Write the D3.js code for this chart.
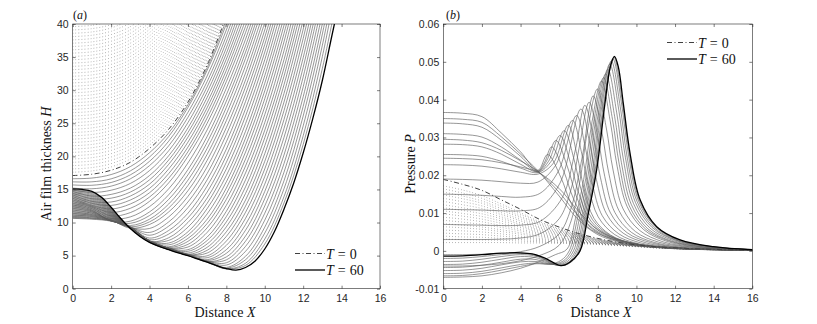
<!DOCTYPE html>
<html lang="en">
<head>
<meta charset="UTF-8">
<title>Air film thickness and pressure</title>
<script src="https://d3js.org/d3.v7.min.js"></script>
<style>
  body { margin: 0; background: #fff; }
  svg { display: block; }
  .tick text { font-family: "Liberation Sans", Arial, sans-serif; font-size: 10.5px; fill: #262626; }
  .tick line { stroke: #262626; stroke-width: 0.6; }
  .lbl { font-family: "Liberation Serif", "DejaVu Serif", serif; font-size: 14px; fill: #111; }
</style>
</head>
<body>
<svg id="chart" width="817" height="324"></svg>
<script>
// tick values
const xTicks = [0, 2, 4, 6, 8, 10, 12, 14, 16];
const hTicks = [0, 5, 10, 15, 20, 25, 30, 35, 40];
const pTicks = [-0.01, 0, 0.01, 0.02, 0.03, 0.04, 0.05, 0.06];

// panel (a): air film thickness H, sampled at X = 0, 1, 2, ...
const xGridA = [0, 1, 2, 3, 4, 5, 6, 7, 8, 9, 10, 11, 12, 13, 14];
const hT0 = [17.1, 17.3, 17.9, 19.1, 21.2, 24.1, 28.2, 33.8, 41.2];
const hT60 = [[0, 15.07], [0.5, 15.0], [1, 14.7], [1.5, 13.8], [2, 12.3], [2.5, 10.6], [3, 9.1], [3.5, 7.9],
  [4, 7.0], [4.5, 6.4], [5, 5.9], [5.5, 5.4], [6, 5.0], [6.5, 4.5], [7, 4.0], [7.5, 3.5], [8, 3.05],
  [8.5, 2.8], [9, 3.2], [9.5, 4.2], [10, 6.0], [10.5, 8.6], [11, 12.0], [11.5, 15.9], [12, 20.5],
  [12.5, 25.7], [13, 31.5], [13.5, 38.3], [14, 45]];
// earlier profiles (dotted)
const hDotted = [
  [17.6, 17.8, 18.4, 19.6, 21.7, 24.6, 28.7, 34.3, 41.7],
  [18.1, 18.3, 18.9, 20.1, 22.2, 25.1, 29.2, 34.8, 42.2],
  [18.6, 18.8, 19.4, 20.6, 22.7, 25.6, 29.7, 35.3, 42.7],
  [19.1, 19.3, 19.9, 21.1, 23.2, 26.1, 30.2, 35.8, 43.2],
  [19.6, 19.8, 20.4, 21.6, 23.7, 26.6, 30.7, 36.3, 43.7],
  [20.1, 20.3, 20.9, 22.1, 24.2, 27.1, 31.2, 36.8, 44.2],
  [20.6, 20.8, 21.4, 22.6, 24.7, 27.6, 31.7, 37.3, 44.7],
  [21.1, 21.3, 21.9, 23.1, 25.2, 28.1, 32.2, 37.8, 45.2],
  [21.6, 21.8, 22.4, 23.6, 25.7, 28.6, 32.7, 38.3, 45.7],
  [22.1, 22.3, 22.9, 24.1, 26.2, 29.1, 33.2, 38.8, 46.2],
  [22.6, 22.8, 23.4, 24.6, 26.7, 29.6, 33.7, 39.3, 46.7],
  [23.1, 23.3, 23.9, 25.1, 27.2, 30.1, 34.2, 39.8, 47.2],
  [23.6, 23.8, 24.4, 25.6, 27.7, 30.6, 34.7, 40.3],
  [24.1, 24.3, 24.9, 26.1, 28.2, 31.1, 35.2, 40.8],
  [24.6, 24.8, 25.4, 26.6, 28.7, 31.6, 35.7, 41.3],
  [25.1, 25.3, 25.9, 27.1, 29.2, 32.1, 36.2, 41.8],
  [25.6, 25.8, 26.4, 27.6, 29.7, 32.6, 36.7, 42.3],
  [26.1, 26.3, 26.9, 28.1, 30.2, 33.1, 37.2, 42.8],
  [26.6, 26.8, 27.4, 28.6, 30.7, 33.6, 37.7, 43.3],
  [27.1, 27.3, 27.9, 29.1, 31.2, 34.1, 38.2, 43.8],
  [27.6, 27.8, 28.4, 29.6, 31.7, 34.6, 38.7, 44.3],
  [28.1, 28.3, 28.9, 30.1, 32.2, 35.1, 39.2, 44.8],
  [28.6, 28.8, 29.4, 30.6, 32.7, 35.6, 39.7, 45.3],
  [29.1, 29.3, 29.9, 31.1, 33.2, 36.1, 40.2],
  [29.6, 29.8, 30.4, 31.6, 33.7, 36.6, 40.7],
  [30.1, 30.3, 30.9, 32.1, 34.2, 37.1, 41.2],
  [30.6, 30.8, 31.4, 32.6, 34.7, 37.6, 41.7],
  [31.1, 31.3, 31.9, 33.1, 35.2, 38.1, 42.2],
  [31.6, 31.8, 32.4, 33.6, 35.7, 38.6, 42.7],
  [32.1, 32.3, 32.9, 34.1, 36.2, 39.1, 43.2],
  [32.6, 32.8, 33.4, 34.6, 36.7, 39.6, 43.7],
  [33.1, 33.3, 33.9, 35.1, 37.2, 40.1],
  [33.6, 33.8, 34.4, 35.6, 37.7, 40.6],
  [34.1, 34.3, 34.9, 36.1, 38.2, 41.1],
  [34.6, 34.8, 35.4, 36.6, 38.7, 41.6],
  [35.1, 35.3, 35.9, 37.1, 39.2, 42.1],
  [35.6, 35.8, 36.4, 37.6, 39.7, 42.6],
  [36.1, 36.3, 36.9, 38.1, 40.2],
  [36.6, 36.8, 37.4, 38.6, 40.7],
  [37.1, 37.3, 37.9, 39.1, 41.2],
  [37.6, 37.8, 38.4, 39.6, 41.7],
  [38.1, 38.3, 38.9, 40.1],
  [38.6, 38.8, 39.4, 40.6],
  [39.1, 39.3, 39.9, 41.1],
  [39.6, 39.8, 40.4]
];
// profiles between T = 0 and T = 60 (grey)
const hSolid = [
  [16.62, 16.72, 17.25, 18.45, 20.55, 23.55, 27.8, 33.4, 40.6],
  [16.15, 16.15, 16.6, 17.8, 19.9, 23.0, 27.4, 33.0, 40.0, 48.5],
  [15.68, 15.63, 16.05, 17.2, 19.25, 22.3, 26.65, 32.15, 39.1, 47.55],
  [15.2, 15.1, 15.5, 16.6, 18.6, 21.6, 25.9, 31.3, 38.2, 46.6],
  [14.95, 14.55, 14.88, 15.9, 17.85, 20.85, 25.1, 30.5, 37.3, 45.6],
  [14.7, 14.0, 14.25, 15.2, 17.1, 20.1, 24.3, 29.7, 36.4, 44.6],
  [14.44, 13.6, 13.68, 14.6, 16.45, 19.45, 23.6, 28.9, 35.55, 43.55],
  [14.18, 13.2, 13.1, 14.0, 15.8, 18.8, 22.9, 28.1, 34.7, 42.5],
  [13.93, 12.9, 12.58, 13.4, 15.15, 18.1, 22.15, 27.35, 33.85, 41.55],
  [13.68, 12.6, 12.05, 12.8, 14.5, 17.4, 21.4, 26.6, 33.0, 40.6],
  [13.43, 12.45, 11.53, 12.15, 13.85, 16.7, 20.7, 25.8, 32.15, 39.65, 48.0],
  [13.17, 12.3, 11.0, 11.5, 13.2, 16.0, 20.0, 25.0, 31.3, 38.7, 47.3],
  [12.92, 12.1, 10.6, 10.85, 12.4, 15.1, 19.0, 24.0, 30.3, 37.7, 46.35],
  [12.66, 11.9, 10.2, 10.2, 11.6, 14.2, 18.0, 23.0, 29.3, 36.7, 45.4],
  [12.4, 11.75, 10.25, 9.88, 11.05, 13.5, 17.2, 22.1, 28.35, 35.75, 44.4],
  [12.15, 11.6, 10.3, 9.55, 10.5, 12.8, 16.4, 21.2, 27.4, 34.8, 43.4],
  [11.9, 11.4, 10.35, 9.35, 10.1, 12.2, 15.6, 20.3, 26.4, 33.7, 42.35],
  [11.64, 11.2, 10.4, 9.15, 9.7, 11.6, 14.8, 19.4, 25.4, 32.6, 41.3],
  [11.39, 11.05, 10.35, 9.22, 9.1, 10.85, 13.95, 18.4, 24.35, 31.55, 40.2],
  [11.14, 10.9, 10.3, 9.3, 8.5, 10.1, 13.1, 17.4, 23.3, 30.5, 39.1, 49.2],
  [10.89, 10.7, 10.25, 9.3, 8.08, 9.45, 12.25, 16.45, 22.2, 29.4, 38.0, 48.15],
  [10.63, 10.5, 10.2, 9.3, 7.65, 8.8, 11.4, 15.5, 21.1, 28.3, 36.9, 47.1],
  [10.69, 10.59, 10.26, 9.3, 7.4, 8.25, 10.7, 14.6, 20.1, 27.2, 35.75, 45.95],
  [10.75, 10.68, 10.32, 9.29, 7.15, 7.7, 10.0, 13.7, 19.1, 26.1, 34.6, 44.8],
  [10.92, 10.84, 10.4, 9.28, 7.2, 7.3, 9.3, 12.9, 18.1, 24.95, 33.4, 43.5],
  [11.08, 10.99, 10.47, 9.27, 7.25, 6.9, 8.6, 12.1, 17.1, 23.8, 32.2, 42.2],
  [11.25, 11.15, 10.55, 9.27, 7.22, 6.62, 8.1, 11.3, 16.15, 22.75, 31.05, 41.0],
  [11.41, 11.3, 10.62, 9.26, 7.2, 6.34, 7.6, 10.5, 15.2, 21.7, 29.9, 39.8, 51.4],
  [11.58, 11.46, 10.7, 9.26, 7.2, 6.22, 7.15, 9.85, 14.35, 20.65, 28.7, 38.55, 50.15],
  [11.75, 11.61, 10.77, 9.25, 7.2, 6.1, 6.7, 9.2, 13.5, 19.6, 27.5, 37.3, 48.9],
  [11.92, 11.77, 10.85, 9.24, 7.2, 6.1, 6.3, 8.5, 12.6, 18.55, 26.3, 35.95, 47.5],
  [12.08, 11.92, 10.93, 9.23, 7.2, 6.1, 5.9, 7.8, 11.7, 17.5, 25.1, 34.6, 46.1],
  [12.25, 12.08, 11.0, 9.22, 7.2, 6.1, 5.65, 7.28, 10.9, 16.45, 23.95, 33.35, 44.75],
  [12.41, 12.23, 11.08, 9.22, 7.2, 6.1, 5.39, 6.76, 10.1, 15.4, 22.8, 32.1, 43.4],
  [12.58, 12.38, 11.15, 9.21, 7.2, 6.1, 5.2, 6.25, 9.35, 14.4, 21.6, 30.8, 42.0],
  [12.74, 12.53, 11.23, 9.2, 7.2, 6.1, 5.06, 5.8, 8.6, 13.4, 20.4, 29.5, 40.6],
  [12.91, 12.69, 11.3, 9.2, 7.2, 6.1, 5.13, 5.39, 7.9, 12.48, 19.25, 28.2, 39.2, 52.0],
  [13.08, 12.84, 11.38, 9.19, 7.2, 6.1, 5.2, 4.97, 7.2, 11.55, 18.1, 26.9, 37.8, 50.9],
  [13.25, 13.0, 11.46, 9.18, 7.18, 6.08, 5.18, 4.68, 6.55, 10.63, 16.95, 25.55, 36.35, 49.35],
  [13.41, 13.15, 11.53, 9.17, 7.15, 6.05, 5.15, 4.39, 5.9, 9.7, 15.8, 24.2, 34.9, 47.8],
  [13.58, 13.3, 11.6, 9.16, 7.12, 6.02, 5.12, 4.25, 5.35, 8.84, 14.7, 22.85, 33.45, 46.3],
  [13.74, 13.45, 11.68, 9.16, 7.1, 6.0, 5.1, 4.1, 4.8, 7.97, 13.6, 21.5, 32.0, 44.8],
  [13.9, 13.6, 11.76, 9.15, 7.1, 6.0, 5.1, 4.12, 4.36, 7.18, 12.5, 20.2, 30.5, 43.2],
  [14.07, 13.76, 11.84, 9.14, 7.1, 6.0, 5.1, 4.15, 3.92, 6.4, 11.4, 18.9, 29.0, 41.6],
  [14.24, 13.92, 11.92, 9.14, 7.08, 5.98, 5.08, 4.12, 3.57, 5.65, 10.35, 17.6, 27.55, 40.05, 55.0],
  [14.41, 14.08, 11.99, 9.13, 7.05, 5.95, 5.05, 4.1, 3.22, 4.9, 9.3, 16.3, 26.1, 38.5, 53.6],
  [14.58, 14.23, 12.06, 9.12, 7.04, 5.94, 5.04, 4.08, 3.11, 4.38, 8.4, 15.1, 24.6, 36.8, 51.75],
  [14.74, 14.38, 12.14, 9.11, 7.02, 5.92, 5.02, 4.05, 3.0, 3.85, 7.5, 13.9, 23.1, 35.1, 49.9],
  [14.9, 14.54, 12.22, 9.1, 7.01, 5.91, 5.01, 4.02, 3.02, 3.52, 6.75, 12.95, 21.8, 33.3, 47.45]
];

// panel (b): pressure P
const xGridB = [0, 1, 2, 3, 4, 5, 6, 7, 8, 9, 10, 11, 12, 14, 16];
const pT0 = [0.0189, 0.0176, 0.0160, 0.0135, 0.0110, 0.0083, 0.0063, 0.0046, 0.0033, 0.0023, 0.0016, 0.0011, 0.0008, 0.0004, 0.0002];
const pDotted = [
  [0.0022, 0.0022, 0.0022, 0.0022, 0.0021, 0.0021, 0.0020, 0.0019, 0.0017, 0.0014, 0.0011, 0.0008, 0.0006, 0.0003, 0.0001],
  [0.0031, 0.0030, 0.0029, 0.0028, 0.0026, 0.0024, 0.0022, 0.0021, 0.0018, 0.0015, 0.0012, 0.0008, 0.0006, 0.0003, 0.0001],
  [0.0039, 0.0037, 0.0036, 0.0033, 0.0030, 0.0027, 0.0024, 0.0022, 0.0019, 0.0015, 0.0012, 0.0008, 0.0006, 0.0003, 0.0001],
  [0.0047, 0.0045, 0.0043, 0.0039, 0.0035, 0.0030, 0.0027, 0.0023, 0.0020, 0.0016, 0.0012, 0.0009, 0.0006, 0.0003, 0.0001],
  [0.0055, 0.0053, 0.0050, 0.0045, 0.0039, 0.0033, 0.0029, 0.0024, 0.0020, 0.0016, 0.0012, 0.0009, 0.0006, 0.0003, 0.0001],
  [0.0064, 0.0061, 0.0057, 0.0051, 0.0044, 0.0037, 0.0031, 0.0026, 0.0021, 0.0017, 0.0013, 0.0009, 0.0007, 0.0003, 0.0001],
  [0.0072, 0.0068, 0.0063, 0.0056, 0.0048, 0.0040, 0.0033, 0.0027, 0.0022, 0.0017, 0.0013, 0.0009, 0.0007, 0.0003, 0.0001],
  [0.0081, 0.0076, 0.0070, 0.0062, 0.0053, 0.0043, 0.0035, 0.0029, 0.0023, 0.0018, 0.0013, 0.0009, 0.0007, 0.0003, 0.0001],
  [0.0089, 0.0084, 0.0077, 0.0067, 0.0057, 0.0046, 0.0037, 0.0030, 0.0023, 0.0018, 0.0013, 0.0009, 0.0007, 0.0003, 0.0001],
  [0.0098, 0.0092, 0.0084, 0.0073, 0.0062, 0.0049, 0.0040, 0.0032, 0.0024, 0.0019, 0.0014, 0.0010, 0.0007, 0.0004, 0.0002],
  [0.0106, 0.0099, 0.0091, 0.0079, 0.0066, 0.0052, 0.0042, 0.0033, 0.0025, 0.0019, 0.0014, 0.0010, 0.0007, 0.0004, 0.0002],
  [0.0114, 0.0107, 0.0098, 0.0085, 0.0070, 0.0055, 0.0044, 0.0034, 0.0026, 0.0019, 0.0014, 0.0010, 0.0007, 0.0004, 0.0002],
  [0.0122, 0.0114, 0.0105, 0.0090, 0.0074, 0.0058, 0.0046, 0.0035, 0.0027, 0.0019, 0.0014, 0.0010, 0.0007, 0.0004, 0.0002],
  [0.0131, 0.0122, 0.0112, 0.0096, 0.0079, 0.0061, 0.0048, 0.0037, 0.0028, 0.0020, 0.0015, 0.0010, 0.0007, 0.0004, 0.0002],
  [0.0139, 0.0130, 0.0119, 0.0101, 0.0083, 0.0064, 0.0050, 0.0038, 0.0028, 0.0020, 0.0015, 0.0010, 0.0007, 0.0004, 0.0002],
  [0.0148, 0.0138, 0.0126, 0.0107, 0.0088, 0.0068, 0.0052, 0.0040, 0.0029, 0.0021, 0.0015, 0.0010, 0.0008, 0.0004, 0.0002],
  [0.0156, 0.0145, 0.0132, 0.0112, 0.0092, 0.0071, 0.0054, 0.0041, 0.0030, 0.0021, 0.0015, 0.0010, 0.0008, 0.0004, 0.0002],
  [0.0164, 0.0153, 0.0139, 0.0118, 0.0097, 0.0074, 0.0057, 0.0042, 0.0031, 0.0022, 0.0016, 0.0011, 0.0008, 0.0004, 0.0002],
  [0.0172, 0.0161, 0.0146, 0.0124, 0.0101, 0.0077, 0.0059, 0.0043, 0.0031, 0.0022, 0.0016, 0.0011, 0.0008, 0.0004, 0.0002]
];
// grey profiles as [X, P] pairs: centre pressure builds, then the peak travels outwards
const pSolid = [
  [[0, 0.0245], [1, 0.0244], [2, 0.0241], [3, 0.0233], [4, 0.0222], [4.9, 0.0208], [6, 0.0165], [7, 0.0105], [8, 0.0055], [9, 0.003], [10, 0.0018], [12, 0.0008], [14, 0.0004], [16, 0.0002]],
  [[0, 0.0295], [1, 0.0293], [2, 0.0286], [3, 0.0266], [4, 0.0238], [4.9, 0.021], [6, 0.0155], [7, 0.0092], [8, 0.0048], [9, 0.0027], [10, 0.0016], [12, 0.0007], [14, 0.0004], [16, 0.0002]],
  [[0, 0.035], [1, 0.0348], [2, 0.034], [3, 0.0302], [4, 0.0256], [4.9, 0.0212], [6, 0.0145], [7, 0.0082], [8, 0.0043], [9, 0.0025], [10, 0.0015], [12, 0.0007], [14, 0.0004], [16, 0.0002]],
  [[0, 0.0366], [1, 0.0364], [2, 0.0355], [3, 0.0312], [4, 0.0262], [4.9, 0.0213], [5.4, 0.0255], [6.09, 0.0194], [6.6, 0.0128], [7.4, 0.0066], [8.7, 0.0032], [10.5, 0.0014], [13, 0.0005], [16, 0.0002]],
  [[0, 0.0338], [1, 0.0336], [2, 0.0327], [3, 0.0293], [4, 0.025], [4.9, 0.0211], [5.25, 0.0235], [5.61, 0.0275], [6.25, 0.0209], [6.74, 0.0138], [7.47, 0.0072], [8.68, 0.0034], [10.4, 0.0015], [12.8, 0.0006], [16, 0.0002]],
  [[0, 0.031], [1, 0.0308], [2, 0.0301], [3, 0.0275], [4, 0.024], [4.9, 0.021], [5.35, 0.0238], [5.83, 0.0292], [6.43, 0.0222], [6.88, 0.0146], [7.56, 0.0076], [8.68, 0.0037], [10.25, 0.0016], [12.5, 0.0006], [16, 0.0002]],
  [[0, 0.0282], [1, 0.0281], [2, 0.0275], [3, 0.0256], [4, 0.0229], [4.9, 0.0209], [5.45, 0.0237], [6.04, 0.0305], [6.59, 0.0232], [7.01, 0.0153], [7.64, 0.0079], [8.67, 0.0038], [10.12, 0.0017], [12.2, 0.0006], [16, 0.0002]],
  [[0, 0.0255], [1, 0.0254], [2, 0.025], [3, 0.0237], [4, 0.0219], [4.9, 0.0207], [5.6, 0.0238], [6.26, 0.0318], [6.77, 0.0242], [7.15, 0.0159], [7.72, 0.0083], [8.67, 0.004], [10.0, 0.0018], [11.9, 0.0007], [16, 0.0002]],
  [[0, 0.0228], [1, 0.0227], [2, 0.0224], [3, 0.0217], [4, 0.0208], [4.9, 0.0203], [5.7, 0.0232], [6.47, 0.0332], [6.93, 0.0252], [7.28, 0.0166], [7.8, 0.0086], [8.66, 0.0042], [9.87, 0.0019], [11.57, 0.0007], [16, 0.0002]],
  [[0, 0.019], [1, 0.0189], [2, 0.0187], [3, 0.0183], [4, 0.0179], [4.9, 0.0182], [5.8, 0.0225], [6.69, 0.0345], [7.15, 0.0262], [7.5, 0.0173], [8.02, 0.009], [8.88, 0.0043], [10.09, 0.0019], [11.79, 0.0007], [16, 0.0002]],
  [[0, 0.015], [1, 0.0149], [2, 0.0147], [3, 0.0144], [4, 0.0142], [5, 0.0152], [5.95, 0.021], [6.9, 0.0358], [7.36, 0.0272], [7.71, 0.0179], [8.23, 0.0093], [9.09, 0.0045], [10.3, 0.002], [12.0, 0.0008], [16, 0.0002]],
  [[0, 0.011], [1, 0.0109], [2, 0.0108], [3, 0.0106], [4, 0.0106], [5, 0.0115], [6.05, 0.018], [7.12, 0.0375], [7.58, 0.0285], [7.93, 0.0188], [8.45, 0.0098], [9.31, 0.0047], [10.52, 0.0021], [12.22, 0.0008], [16, 0.0002]],
  [[0, 0.007], [1, 0.0069], [2, 0.0068], [3, 0.0067], [4, 0.0068], [5, 0.0078], [6.15, 0.014], [6.85, 0.027], [7.33, 0.0385], [7.79, 0.0293], [8.14, 0.0193], [8.66, 0.01], [9.52, 0.0048], [10.73, 0.0022], [12.43, 0.0008], [16, 0.0002]],
  [[0, 0.003], [1, 0.003], [2, 0.003], [3, 0.0031], [4, 0.0034], [5, 0.0045], [6.0, 0.0085], [6.6, 0.016], [7.08, 0.0285], [7.55, 0.0393], [8.01, 0.0299], [8.36, 0.0197], [8.88, 0.0102], [9.74, 0.0049], [10.95, 0.0022], [12.65, 0.0008], [16, 0.0002]],
  [[0, -0.001], [1, -0.001], [2, -0.0009], [3, -0.0007], [4, -0.0002], [5, 0.0012], [6.0, 0.0045], [6.6, 0.011], [7.2, 0.025], [7.76, 0.041], [8.22, 0.0312], [8.57, 0.0205], [9.09, 0.0107], [9.95, 0.0051], [11.16, 0.0023], [12.86, 0.0009], [16, 0.0002]],
  [[0, -0.004], [1, -0.004], [2, -0.0038], [3, -0.0034], [4, -0.0026], [5, -0.0012], [6.0, 0.0015], [6.63, 0.0081], [7.06, 0.018], [7.49, 0.0325], [7.98, 0.0428], [8.44, 0.0325], [8.79, 0.0214], [9.31, 0.0111], [10.17, 0.0054], [11.38, 0.0024], [13.08, 0.0009], [16, 0.0002]],
  [[0, -0.007], [1, -0.0069], [2, -0.0066], [3, -0.0058], [4, -0.0046], [5, -0.0028], [5.8, -0.001], [6.41, 0.0005], [6.84, 0.0085], [7.27, 0.0189], [7.7, 0.0341], [8.19, 0.0449], [8.65, 0.0341], [9.0, 0.0224], [9.52, 0.0117], [10.38, 0.0056], [11.59, 0.0025], [13.29, 0.0009], [16, 0.0002]],
  [[0, -0.0066], [1, -0.0065], [2, -0.006], [3, -0.0051], [4, -0.0041], [4.8, -0.0034], [5.54, -0.0035], [6.1, -0.0025], [6.52, 0.0], [6.95, 0.0087], [7.38, 0.0192], [7.81, 0.0348], [8.3, 0.0458], [8.76, 0.0348], [9.11, 0.0229], [9.63, 0.0119], [10.49, 0.0057], [11.7, 0.0026], [13.4, 0.001], [16, 0.0002]],
  [[0, -0.006], [1, -0.0059], [2, -0.0054], [3, -0.0045], [4, -0.0036], [4.8, -0.0032], [5.65, -0.0035], [6.2, -0.0027], [6.63, 0.0], [7.06, 0.0089], [7.49, 0.0197], [7.92, 0.0356], [8.41, 0.0468], [8.87, 0.0356], [9.22, 0.0234], [9.74, 0.0122], [10.6, 0.0058], [11.81, 0.0026], [13.5, 0.001], [16, 0.0002]],
  [[0, -0.0052], [1, -0.0051], [2, -0.0046], [3, -0.0037], [4, -0.0029], [4.8, -0.0028], [5.76, -0.0036], [6.3, -0.0028], [6.74, 0.0], [7.17, 0.0091], [7.6, 0.0202], [8.03, 0.0365], [8.52, 0.048], [8.98, 0.0365], [9.33, 0.024], [9.85, 0.0125], [10.71, 0.006], [11.92, 0.0027], [13.6, 0.001], [16, 0.0003]],
  [[0, -0.0044], [1, -0.0043], [2, -0.0038], [3, -0.003], [4, -0.0022], [4.8, -0.0023], [5.86, -0.0037], [6.4, -0.0029], [6.84, 0.0], [7.27, 0.0094], [7.7, 0.0207], [8.13, 0.0375], [8.62, 0.0494], [9.08, 0.0375], [9.43, 0.0247], [9.95, 0.0128], [10.81, 0.0062], [12.02, 0.0028], [13.72, 0.0011], [16, 0.0003]],
  [[0, -0.0036], [1, -0.0035], [2, -0.003], [3, -0.0022], [4, -0.0015], [4.8, -0.0018], [5.94, -0.0038], [6.48, -0.003], [6.92, 0.0], [7.35, 0.0095], [7.78, 0.0211], [8.21, 0.0382], [8.7, 0.0502], [9.16, 0.0382], [9.51, 0.0251], [10.03, 0.0131], [10.89, 0.0063], [12.1, 0.0028], [13.8, 0.0011], [16, 0.0003]],
  [[0, -0.0028], [1, -0.0027], [2, -0.0022], [3, -0.0015], [4, -0.001], [4.8, -0.0014], [6.02, -0.0039], [6.56, -0.003], [7.0, 0.0], [7.43, 0.0097], [7.86, 0.0213], [8.29, 0.0386], [8.78, 0.0508], [9.24, 0.0386], [9.59, 0.0254], [10.11, 0.0132], [10.97, 0.0064], [12.18, 0.0028], [13.9, 0.0011], [16, 0.0003]],
  [[0, -0.002], [1, -0.0019], [2, -0.0015], [3, -0.001], [4, -0.0007], [4.7, -0.001], [6.07, -0.0039], [6.61, -0.003], [7.05, 0.0], [7.48, 0.0097], [7.91, 0.0215], [8.34, 0.0389], [8.83, 0.0512], [9.29, 0.0389], [9.64, 0.0256], [10.16, 0.0133], [11.02, 0.0064], [12.23, 0.0029], [13.95, 0.0011], [16, 0.0003]]
];
const pT60 = [[0, -0.0014], [1, -0.0013], [2, -0.001], [3, -0.0006], [4, -0.0005], [4.6, -0.0008], [5.2, -0.0018],
  [5.7, -0.0031], [6.1, -0.0039], [6.55, -0.003], [7.08, 0], [7.51, 0.00995], [7.94, 0.0214], [8.37, 0.039],
  [8.65, 0.0487], [8.86, 0.0514], [9.06, 0.0487], [9.32, 0.039], [9.67, 0.0258], [10.19, 0.0135],
  [11.05, 0.0064], [12.26, 0.0029], [13.98, 0.0011], [16, 0.0003]];

const legendLabels = ['0', '60'];

// ---- layout ----
const plotTop = 24, plotBottom = 288.7;
const svg = d3.select('#chart');

const xa = d3.scaleLinear().domain([0, 16]).range([72.7, 380]);
const ya = d3.scaleLinear().domain([0, 40]).range([plotBottom, plotTop]);
const xb = d3.scaleLinear().domain([0, 16]).range([443.3, 752.3]);
const yb = d3.scaleLinear().domain([-0.01, 0.06]).range([plotBottom, plotTop]);

const onGrid = grid => row => row.map((v, i) => [grid[i], v]);

function drawAxes(x, y, yTicks, yFmt) {
  const g = svg.append('g');
  const [x0, x1] = x.range();
  g.append('g').attr('transform', `translate(0,${plotBottom})`)
    .call(d3.axisBottom(x).tickValues(xTicks).tickSizeInner(-3).tickSizeOuter(0).tickPadding(6));
  g.append('g').attr('transform', `translate(0,${plotTop})`)
    .call(d3.axisTop(x).tickValues(xTicks).tickSizeInner(-3).tickSizeOuter(0).tickFormat(''));
  g.append('g').attr('transform', `translate(${x0},0)`)
    .call(d3.axisLeft(y).tickValues(yTicks).tickSizeInner(-3).tickSizeOuter(0).tickPadding(4).tickFormat(yFmt));
  g.append('g').attr('transform', `translate(${x1},0)`)
    .call(d3.axisRight(y).tickValues(yTicks).tickSizeInner(-3).tickSizeOuter(0).tickFormat(''));
  g.selectAll('.domain').remove();
  g.append('rect').attr('x', x0).attr('y', plotTop).attr('width', x1 - x0).attr('height', plotBottom - plotTop)
    .attr('fill', 'none').attr('stroke', '#262626').attr('stroke-width', 0.6);
}

function drawPanel(id, x, y, curves) {
  const [x0, x1] = x.range();
  svg.append('clipPath').attr('id', id)
    .append('rect').attr('x', x0).attr('y', plotTop).attr('width', x1 - x0).attr('height', plotBottom - plotTop);
  const g = svg.append('g').attr('clip-path', `url(#${id})`);
  const line = d3.line().x(d => x(d[0])).y(d => y(d[1])).curve(d3.curveCatmullRom.alpha(0.5));
  curves.forEach(c => {
    g.selectAll(null).data(c.rows).join('path')
      .attr('d', line)
      .attr('fill', 'none')
      .attr('stroke', c.color)
      .attr('stroke-width', c.width)
      .attr('stroke-dasharray', c.dash || null);
  });
}

const dotStyle = { color: '#505050', width: 0.7, dash: '0.6 2.4' };
const greyStyle = { color: '#5e5e5e', width: 0.65 };
const t0Style = { color: '#404040', width: 1, dash: '5 2.5 1 2.5' };
const t60Style = { color: '#000', width: 1.3 };

drawPanel('clipA', xa, ya, [
  { rows: hDotted.map(onGrid(xGridA)), ...dotStyle },
  { rows: hSolid.map(onGrid(xGridA)), ...greyStyle },
  { rows: [onGrid(xGridA)(hT0)], ...t0Style },
  { rows: [hT60], ...t60Style }
]);
drawPanel('clipB', xb, yb, [
  { rows: pDotted.map(onGrid(xGridB)), ...dotStyle },
  { rows: pSolid, ...greyStyle },
  { rows: [onGrid(xGridB)(pT0)], ...t0Style },
  { rows: [pT60], ...t60Style }
]);

drawAxes(xa, ya, hTicks, d => d);
drawAxes(xb, yb, pTicks, d => d === 0 ? '0' : d.toFixed(2));

// ---- labels ----
function mathLabel(sel, word, sym) {
  sel.append('tspan').text(word + ' ');
  sel.append('tspan').attr('font-style', 'italic').text(sym);
}
mathLabel(svg.append('text').attr('class', 'lbl').attr('x', 225).attr('y', 317).attr('text-anchor', 'middle'), 'Distance', 'X');
mathLabel(svg.append('text').attr('class', 'lbl').attr('x', 601).attr('y', 317).attr('text-anchor', 'middle'), 'Distance', 'X');
mathLabel(svg.append('text').attr('class', 'lbl').attr('text-anchor', 'middle')
  .attr('transform', 'translate(51,164) rotate(-90)'), 'Air film thickness', 'H');
mathLabel(svg.append('text').attr('class', 'lbl').attr('text-anchor', 'middle')
  .attr('transform', 'translate(415,164) rotate(-90)'), 'Pressure', 'P');

function panelTag(x, letter) {
  const t = svg.append('text').attr('class', 'lbl').attr('x', x).attr('y', 19)
    .attr('text-anchor', 'middle').style('font-size', '12px');
  t.append('tspan').text('(');
  t.append('tspan').attr('font-style', 'italic').text(letter);
  t.append('tspan').text(')');
}
panelTag(80, 'a');
panelTag(453, 'b');

function legend(x, y) {
  [t0Style, t60Style].forEach((s, i) => {
    const yy = y + i * 16.5;
    svg.append('line').attr('x1', x).attr('x2', x + 30).attr('y1', yy).attr('y2', yy)
      .attr('stroke', s.color).attr('stroke-width', s.width).attr('stroke-dasharray', s.dash || null);
    const t = svg.append('text').attr('class', 'lbl').attr('x', x + 31).attr('y', yy + 5);
    t.append('tspan').attr('font-style', 'italic').text('T');
    t.append('tspan').attr('dx', 4).text('=');
    t.append('tspan').attr('dx', 4).text(legendLabels[i]);
  });
}
legend(295, 253.5);
legend(667, 42.5);
</script>
</body>
</html>
